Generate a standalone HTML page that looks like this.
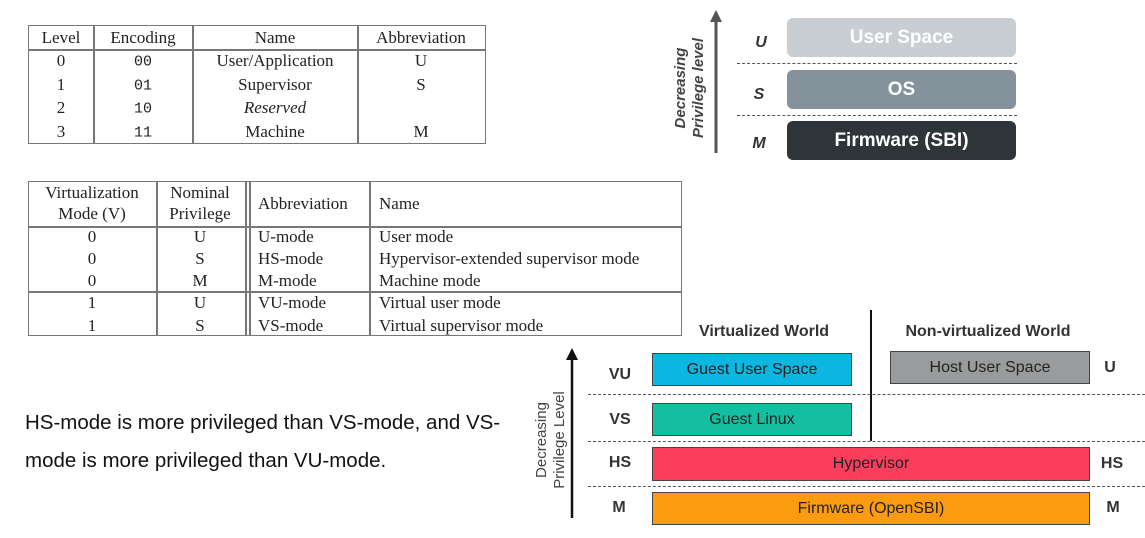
<!DOCTYPE html>
<html><head><meta charset="utf-8"><style>
body{margin:0;width:1145px;height:538px;background:#fff;position:relative;overflow:hidden;font-family:"Liberation Sans",sans-serif}
.a{position:absolute;white-space:nowrap}
.s{font-family:"Liberation Serif",serif;font-size:17px;color:#222}
.m{font-family:"Liberation Mono",monospace;font-size:15px;color:#222}
.c{transform:translate(-50%,-50%)}
.l{transform:translateY(-50%)}
.ln{position:absolute;background:#777}
.box{position:absolute;display:flex;align-items:center;justify-content:center;font-size:16px;color:#222;border:1px solid #444;box-sizing:border-box;white-space:nowrap}
.rb{position:absolute;display:flex;align-items:center;justify-content:center;font-size:19px;font-weight:bold;color:#fff;border-radius:6px}
.dash{position:absolute;border-top:1.5px dashed #555;height:0}
.lab{position:absolute;white-space:nowrap;transform:translate(-50%,-50%);font-size:16px;font-weight:bold;color:#333}
</style></head><body>
<!-- Table 1 -->
<div style="position:absolute;left:28px;top:25px;width:458px;height:119px;border:1.5px solid #777;box-sizing:border-box"></div>
<div class="ln" style="left:28px;top:49px;width:458px;height:1.5px"></div>
<div class="ln" style="left:93px;top:25px;width:1.5px;height:119px"></div>
<div class="ln" style="left:192px;top:25px;width:1.5px;height:119px"></div>
<div class="ln" style="left:357px;top:25px;width:1.5px;height:119px"></div>
<div class="a s c" style="left:61px;top:38px">Level</div>
<div class="a s c" style="left:143px;top:38px">Encoding</div>
<div class="a s c" style="left:275px;top:38px">Name</div>
<div class="a s c" style="left:421px;top:38px">Abbreviation</div>
<div class="a s c" style="left:61px;top:61px">0</div><div class="a m c" style="left:143px;top:62px">00</div><div class="a s c" style="left:275px;top:61px">User/Application</div><div class="a s c" style="left:421px;top:61px">U</div>
<div class="a s c" style="left:61px;top:85px">1</div><div class="a m c" style="left:143px;top:86px">01</div><div class="a s c" style="left:275px;top:85px">Supervisor</div><div class="a s c" style="left:421px;top:85px">S</div>
<div class="a s c" style="left:61px;top:108px">2</div><div class="a m c" style="left:143px;top:109px">10</div><div class="a s c" style="left:275px;top:108px;font-style:italic">Reserved</div>
<div class="a s c" style="left:61px;top:132px">3</div><div class="a m c" style="left:143px;top:133px">11</div><div class="a s c" style="left:275px;top:132px">Machine</div><div class="a s c" style="left:421px;top:132px">M</div>
<!-- Table 2 -->
<div style="position:absolute;left:28px;top:181px;width:654px;height:155px;border:1.5px solid #777;box-sizing:border-box"></div>
<div class="ln" style="left:28px;top:226px;width:654px;height:1.5px"></div>
<div class="ln" style="left:28px;top:291px;width:654px;height:1.5px"></div>
<div class="ln" style="left:156px;top:181px;width:1.5px;height:155px"></div>
<div class="ln" style="left:245px;top:181px;width:1.5px;height:155px"></div>
<div class="ln" style="left:249px;top:181px;width:1.5px;height:155px"></div>
<div class="ln" style="left:369px;top:181px;width:1.5px;height:155px"></div>
<div class="a s c" style="left:92px;top:193px">Virtualization</div>
<div class="a s c" style="left:92px;top:214px">Mode (V)</div>
<div class="a s c" style="left:200px;top:193px">Nominal</div>
<div class="a s c" style="left:200px;top:214px">Privilege</div>
<div class="a s l" style="left:258px;top:204px">Abbreviation</div>
<div class="a s l" style="left:379px;top:204px">Name</div>
<div class="a s c" style="left:92px;top:237px">0</div><div class="a s c" style="left:200px;top:237px">U</div><div class="a s l" style="left:258px;top:237px">U-mode</div><div class="a s l" style="left:379px;top:237px">User mode</div>
<div class="a s c" style="left:92px;top:259px">0</div><div class="a s c" style="left:200px;top:259px">S</div><div class="a s l" style="left:258px;top:259px">HS-mode</div><div class="a s l" style="left:379px;top:259px">Hypervisor-extended supervisor mode</div>
<div class="a s c" style="left:92px;top:281px">0</div><div class="a s c" style="left:200px;top:281px">M</div><div class="a s l" style="left:258px;top:281px">M-mode</div><div class="a s l" style="left:379px;top:281px">Machine mode</div>
<div class="a s c" style="left:92px;top:303px">1</div><div class="a s c" style="left:200px;top:303px">U</div><div class="a s l" style="left:258px;top:303px">VU-mode</div><div class="a s l" style="left:379px;top:303px">Virtual user mode</div>
<div class="a s c" style="left:92px;top:326px">1</div><div class="a s c" style="left:200px;top:326px">S</div><div class="a s l" style="left:258px;top:326px">VS-mode</div><div class="a s l" style="left:379px;top:326px">Virtual supervisor mode</div>
<!-- Text -->
<div class="a" style="left:25px;top:411px;font-size:20.5px;color:#111">HS-mode is more privileged than VS-mode, and VS-</div>
<div class="a" style="left:25px;top:449px;font-size:20.5px;color:#111">mode is more privileged than VU-mode.</div>
<!-- Arrows -->
<svg class="a" style="left:0;top:0" width="1145" height="538">
<line x1="716" y1="153" x2="716" y2="20" stroke="#555" stroke-width="3"/>
<polygon points="710,22 722,22 716,10" fill="#555"/>
<line x1="572" y1="518" x2="572" y2="358" stroke="#111" stroke-width="2.5"/>
<polygon points="566,360 578,360 572,348" fill="#111"/>
<line x1="871" y1="310" x2="871" y2="441" stroke="#111" stroke-width="2"/>
</svg>
<div class="a" style="left:690px;top:88px;transform:translate(-50%,-50%) rotate(-90deg);font-size:15px;font-style:italic;font-weight:bold;color:#444;text-align:center;line-height:18px">Decreasing<br>Privilege level</div>
<div class="lab" style="left:761px;top:43px;font-style:italic">U</div>
<div class="lab" style="left:759px;top:95px;font-style:italic">S</div>
<div class="lab" style="left:759px;top:144px;font-style:italic">M</div>
<div class="rb" style="left:787px;top:18px;width:229px;height:39px;background:#c9ced2">User Space</div>
<div class="rb" style="left:787px;top:70px;width:229px;height:39px;background:#84939b">OS</div>
<div class="rb" style="left:787px;top:121px;width:229px;height:39px;background:#2d3538">Firmware (SBI)</div>
<div class="dash" style="left:737px;top:63px;width:280px"></div>
<div class="dash" style="left:737px;top:115px;width:280px"></div>
<!-- Bottom diagram -->
<div class="lab" style="left:764px;top:332px">Virtualized World</div>
<div class="lab" style="left:988px;top:332px">Non-virtualized World</div>
<div class="a" style="left:551px;top:440px;transform:translate(-50%,-50%) rotate(-90deg);font-size:15px;color:#444;text-align:center;line-height:18px">Decreasing<br>Privilege Level</div>
<div class="lab" style="left:620px;top:375px">VU</div>
<div class="lab" style="left:620px;top:420px">VS</div>
<div class="lab" style="left:620px;top:463px">HS</div>
<div class="lab" style="left:619px;top:508px">M</div>
<div class="lab" style="left:1110px;top:368px">U</div>
<div class="lab" style="left:1112px;top:464px">HS</div>
<div class="lab" style="left:1113px;top:508px">M</div>
<div class="box" style="left:652px;top:353px;width:200px;height:33px;background:#0bb6e0">Guest User Space</div>
<div class="box" style="left:890px;top:351px;width:200px;height:33px;background:#999b9c">Host User Space</div>
<div class="box" style="left:652px;top:403px;width:200px;height:33px;background:#13bfa0">Guest Linux</div>
<div class="box" style="left:652px;top:447px;width:438px;height:34px;background:#fb3e5c">Hypervisor</div>
<div class="box" style="left:652px;top:492px;width:438px;height:33px;background:#fb9b0f">Firmware (OpenSBI)</div>
<div class="dash" style="left:588px;top:394px;width:557px;border-top-width:1px"></div>
<div class="dash" style="left:588px;top:441px;width:557px;border-top-width:1px"></div>
<div class="dash" style="left:588px;top:486px;width:557px;border-top-width:1px"></div>
</body></html>
